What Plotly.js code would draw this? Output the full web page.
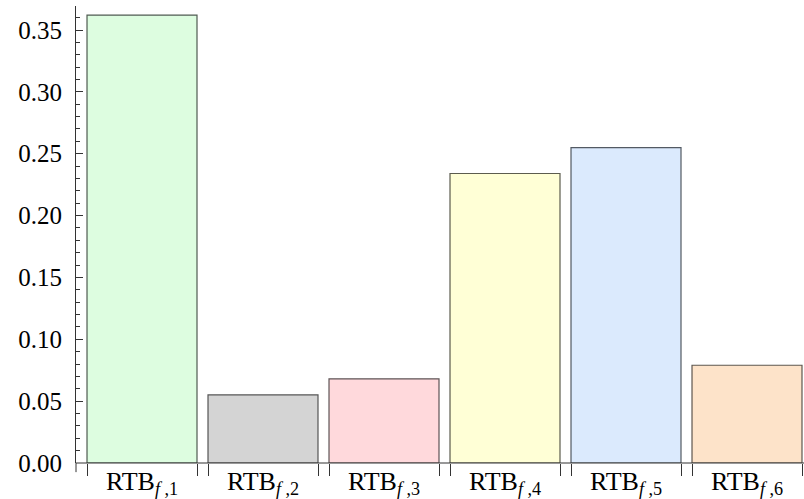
<!DOCTYPE html>
<html>
<head>
<meta charset="utf-8">
<script src="https://cdn.plot.ly/plotly-3.0.1.min.js"></script>
<style>html,body{margin:0;padding:0;background:#fff;}#chart{width:804px;height:499px;}</style>
</head>
<body>
<div id="chart"></div>
<script>
// Data
const categories = [1, 2, 3, 4, 5, 6];
const categoryLabels = ["RTB<sub><i>f</i> ,1</sub>", "RTB<sub><i>f</i> ,2</sub>", "RTB<sub><i>f</i> ,3</sub>",
                        "RTB<sub><i>f</i> ,4</sub>", "RTB<sub><i>f</i> ,5</sub>", "RTB<sub><i>f</i> ,6</sub>"];
const values = [0.362, 0.055, 0.068, 0.234, 0.255, 0.079];
const fillColors = ["#ddfde0", "#d4d4d4", "#ffd9dc", "#ffffd6", "#dbeafd", "#fde3c9"];
const lineColors = ["#4f5b51", "#555555", "#5e5456", "#5c5c4e", "#535a63", "#5e574f"];
const yTickVals = [0, 0.05, 0.10, 0.15, 0.20, 0.25, 0.30, 0.35];

const barWidth = 0.909;
const edges = [];
categories.forEach(c => { edges.push(c - barWidth / 2, c + barWidth / 2); });

const font = "Liberation Serif";

const trace = {
  type: "bar",
  x: categories,
  y: values,
  width: barWidth,
  marker: { color: fillColors, line: { color: lineColors, width: 1.2 } },
  hoverinfo: "skip"
};

const layout = {
  width: 804, height: 499,
  margin: { l: 76, r: 0, t: 6, b: 36 },
  paper_bgcolor: "#fff", plot_bgcolor: "#fff",
  showlegend: false,
  bargap: 0,
  font: { family: font, size: 24, color: "#000" },
  xaxis: {
    range: [0.4545, 6.471],
    tickvals: categories,
    ticktext: categoryLabels,
    ticks: "",
    showgrid: false, zeroline: false,
    showline: false,
    tickfont: { family: font, size: 26, color: "#000" },
    ticklabelstandoff: 0,
    minor: { tickvals: edges, ticks: "outside", ticklen: 12, tickcolor: "#333", tickwidth: 1, showgrid: false }
  },
  yaxis: {
    range: [0, 0.3694],
    tickvals: yTickVals,
    tickformat: ".2f",
    ticks: "inside", ticklen: 7, tickwidth: 1, tickcolor: "#333",
    showline: true, linecolor: "#333", linewidth: 1,
    showgrid: false, zeroline: false,
    tickfont: { family: font, size: 25, color: "#000" },
    ticklabelstandoff: 8,
    minor: { dtick: 0.01, ticks: "inside", ticklen: 4, tickcolor: "#333", tickwidth: 1, showgrid: false }
  },
  shapes: [
    { type: "line", xref: "paper", yref: "paper", x0: 0, x1: 1, y0: 0, y1: 0, line: { color: "#333", width: 1.2 }, layer: "above" },
    { type: "line", xref: "paper", yref: "paper", x0: 0, x1: 0, y0: 0, y1: -0.02, line: { color: "#333", width: 1 } }
  ]
};

Plotly.newPlot("chart", [trace], layout, { displayModeBar: false, staticPlot: true });
</script>
</body>
</html>
